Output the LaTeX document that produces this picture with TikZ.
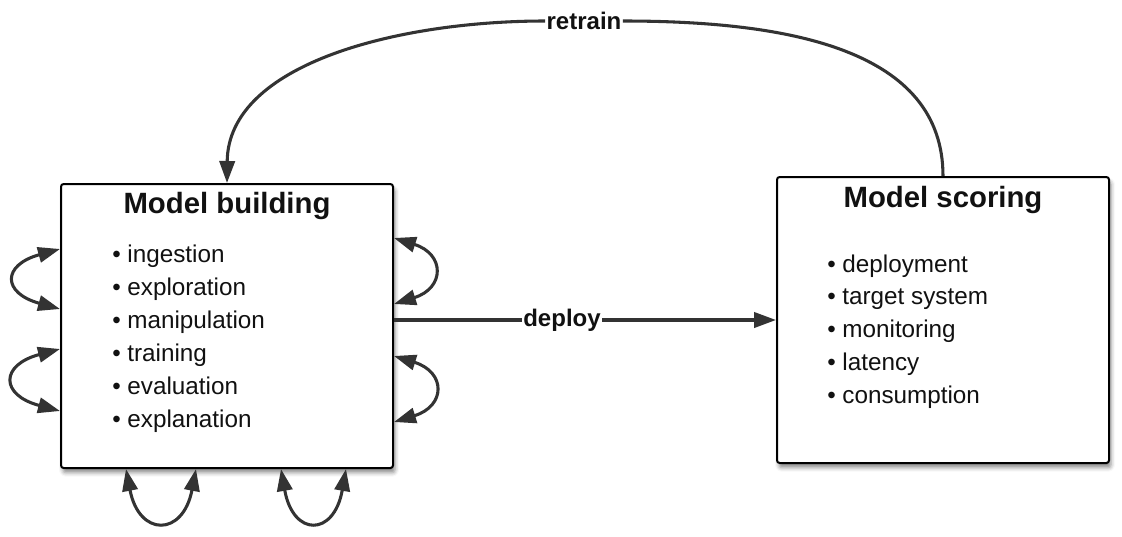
\documentclass[tikz,border=0pt]{standalone}
\usepackage{fontspec}
\setmainfont{Liberation Sans}
\usetikzlibrary{arrows.meta,calc,shadows,shadows.blur}
\definecolor{lc}{HTML}{333333}
\definecolor{tc}{HTML}{111111}
\begin{document}
\begin{tikzpicture}[x=0.75pt,y=-0.75pt,
  box/.style={draw=black,line width=1.5pt,fill=white,rounded corners=2pt,
    blur shadow={shadow xshift=1.5pt,shadow yshift=-3.5pt,shadow blur radius=3pt,shadow opacity=45}},
  conn/.style={draw=lc,line width=2.3pt},
  tip/.style={-{Triangle[length=16.5pt,width=11.5pt]}},
  both/.style={{Triangle[length=16.5pt,width=11.5pt]}-{Triangle[length=16.5pt,width=11.5pt]}},
  ttl/.style={font=\fontsize{22}{26}\selectfont\bfseries,text=tc,inner sep=0,anchor=base},
  itm/.style={font=\fontsize{18.2}{22}\selectfont,text=tc,inner sep=0,anchor=base west},
  lbl/.style={font=\fontsize{18}{22}\selectfont\bfseries,text=tc,fill=white,inner sep=1pt}
]
\useasboundingbox (0,0) rectangle (1122,536);

% boxes
\node[box,minimum width=249pt,minimum height=213pt] (mb) at (227,326) {};
\node[box,minimum width=249pt,minimum height=214.5pt] (ms) at (943,320) {};

% titles
\node[ttl] (mbt) at (227,213) {Model building};
\node[ttl] (mst) at (943,207) {Model scoring};

% items
\foreach \t [count=\i] in {ingestion,exploration,manipulation,training,evaluation,explanation}
  \node[itm] (bi\i) at (112,{262+(\i-1)*33}) {\textbullet\hspace{5pt}\t};
\foreach \t [count=\i] in {deployment,target system,monitoring,latency,consumption}
  \node[itm] (si\i) at (827,{272+(\i-1)*32.75}) {\textbullet\hspace{5pt}\t};

% retrain
\node[lbl] (rt) at (584,21) {retrain};
\draw[conn] (ms.north) .. controls (943,50) and (790,21) .. (rt.east);
\draw[conn,tip] (rt.west) .. controls (400,21) and (228,63) .. (mb.north);

% deploy
\node[lbl] (dp) at (562,320) {deploy};
\draw[conn] (mb.east |- ms.west) -- (dp.west);
\draw[conn,tip] (dp.east) -- (ms.west);

% self loops left
\draw[conn,both] ($(mb.north west)+(0,66)$) .. controls +(-58,16) and +(-58,-16) .. ($(mb.north west)+(0,126)$);
\draw[conn,both] ($(mb.north west)+(0,166)$) .. controls +(-60,16) and +(-60,-16) .. ($(mb.north west)+(0,228)$);
% self loops right
\draw[conn,both] ($(mb.north east)+(0,55)$) .. controls +(51,16) and +(51,-16) .. ($(mb.north east)+(0,121)$);
\draw[conn,both] ($(mb.north east)+(0,173)$) .. controls +(52,16) and +(52,-16) .. ($(mb.north east)+(0,239)$);
% self loops bottom
\draw[conn,both] ($(mb.south west)+(66,0)$) .. controls +(13,68) and +(-13,68) .. ($(mb.south west)+(136,0)$);
\draw[conn,both] ($(mb.south west)+(221,0)$) .. controls +(12,68) and +(-12,68) .. ($(mb.south west)+(286,0)$);
\end{tikzpicture}
\end{document}
